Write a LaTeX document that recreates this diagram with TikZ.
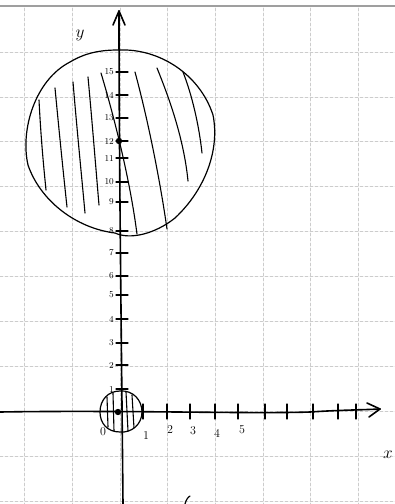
\documentclass[tikz,border=0pt]{standalone}
\begin{document}
\begin{tikzpicture}[x=1pt,y=-1pt,line cap=round,line join=round,
  gridline/.style={gray!40,line width=0.8pt,densely dashed},
  axisline/.style={black,line width=1.6pt},
  pen/.style={black,line width=1.2pt},
  hatch/.style={black,line width=1.1pt},
  ticklab/.style={font=\fontsize{9}{9}\selectfont,inner sep=0pt,anchor=east},
  xlab/.style={font=\fontsize{12}{12}\selectfont,inner sep=0pt}]
\useasboundingbox (0,0) rectangle (395,504);
\fill[white] (0,0) rectangle (395,504);
% grid
\foreach \x in {24,72,120,167,215,263,310,358} \draw[gridline] (\x,8) -- (\x,504);
\foreach \y in {52,97,141,186,231,276,321,366,411,456,501} \draw[gridline] (0,\y) -- (395,\y);
% top edge
\draw[gray!75,line width=2.4pt] (0,6) -- (395,6);
% big circle
\draw[pen] (118,50) .. controls (160,48) and (200,75) .. (213,115)
  .. controls (220,150) and (205,190) .. (175,218)
  .. controls (155,234) and (130,240) .. (115,233)
  .. controls (75,228) and (40,200) .. (28,165)
  .. controls (20,130) and (35,80) .. (70,62)
  .. controls (85,53) and (100,50) .. (118,50);
% hatching big circle
\draw[hatch] (39,100) .. controls (41,140) and (44,170) .. (46,190);
\draw[hatch] (55,88) .. controls (59,130) and (63,170) .. (67,207);
\draw[hatch] (73,82) .. controls (77,130) and (82,180) .. (85,213);
\draw[hatch] (88,77) .. controls (92,120) and (96,170) .. (99,205);
\draw[hatch] (101,73) .. controls (115,120) and (130,180) .. (137,234);
\draw[hatch] (135,72) .. controls (148,120) and (160,180) .. (167,229);
\draw[hatch] (157,68) .. controls (170,100) and (184,140) .. (188,181);
\draw[hatch] (183,72) .. controls (192,95) and (199,125) .. (202,153);
% y axis
\coordinate (ybot) at (123,504);
\coordinate (ytop) at (119,11);
\draw[axisline] (ybot) .. controls (121,300) and (119,150) .. (ytop);
\draw[axisline] (113,25) -- (ytop) -- (125,25);
\node[font=\fontsize{16}{16}\selectfont,inner sep=0pt] (ylab) at (80,35) {$y$};
% x axis
\coordinate (xl) at (0,412);
\coordinate (xr) at (380,409);
\draw[axisline] (xl) .. controls (120,410) and (250,414) .. (310,412) .. controls (340,410) and (360,410) .. (xr);
\draw[axisline] (367,403) -- (xr) -- (369,417);
\node[font=\fontsize{16}{16}\selectfont,inner sep=0pt] (xlabel) at (388,455) {$x$};
% x ticks
\foreach \x in {143,167,190,215,238,265,287,313,338,356}
  \draw[pen] (\x,404) -- (\x,419);
\node[xlab] (x1) at (146,436) {1};
\node[xlab] (x2) at (170,430) {2};
\node[xlab] (x3) at (193,431) {3};
\node[xlab] (x4) at (217,433) {4};
\node[xlab] (x5) at (242,430) {5};
\node[xlab] (x0) at (103,432) {0};
% y ticks
\foreach \y/\l in {72/15,95/14,118/13,141/12,158/11,182/10,202/9,231/8,253/7,276/6,295/5,319/4,343/3,365/2,389/1}{
  \draw[pen] (116,\y) -- (128,\y);
  \node[ticklab] at (114,\y) {\l};
}
% small circle
\draw[pen] (120,391) .. controls (133,390) and (142,400) .. (142,412)
  .. controls (142,424) and (132,433) .. (120,432)
  .. controls (107,432) and (100,423) .. (100,412)
  .. controls (100,400) and (108,391) .. (120,391);
\draw[hatch] (107,397) -- (108,427);
\draw[hatch] (113,393) -- (114,431);
\draw[hatch] (126,392) -- (128,431);
\draw[hatch] (132,395) -- (134,428);
% centre dots
\fill (119,141) circle (3.2);
\fill (118,412) circle (3.2);
% stray stroke at bottom
\draw[pen] (185,504) .. controls (186,500) and (188,497) .. (190,496);
\end{tikzpicture}
\end{document}
